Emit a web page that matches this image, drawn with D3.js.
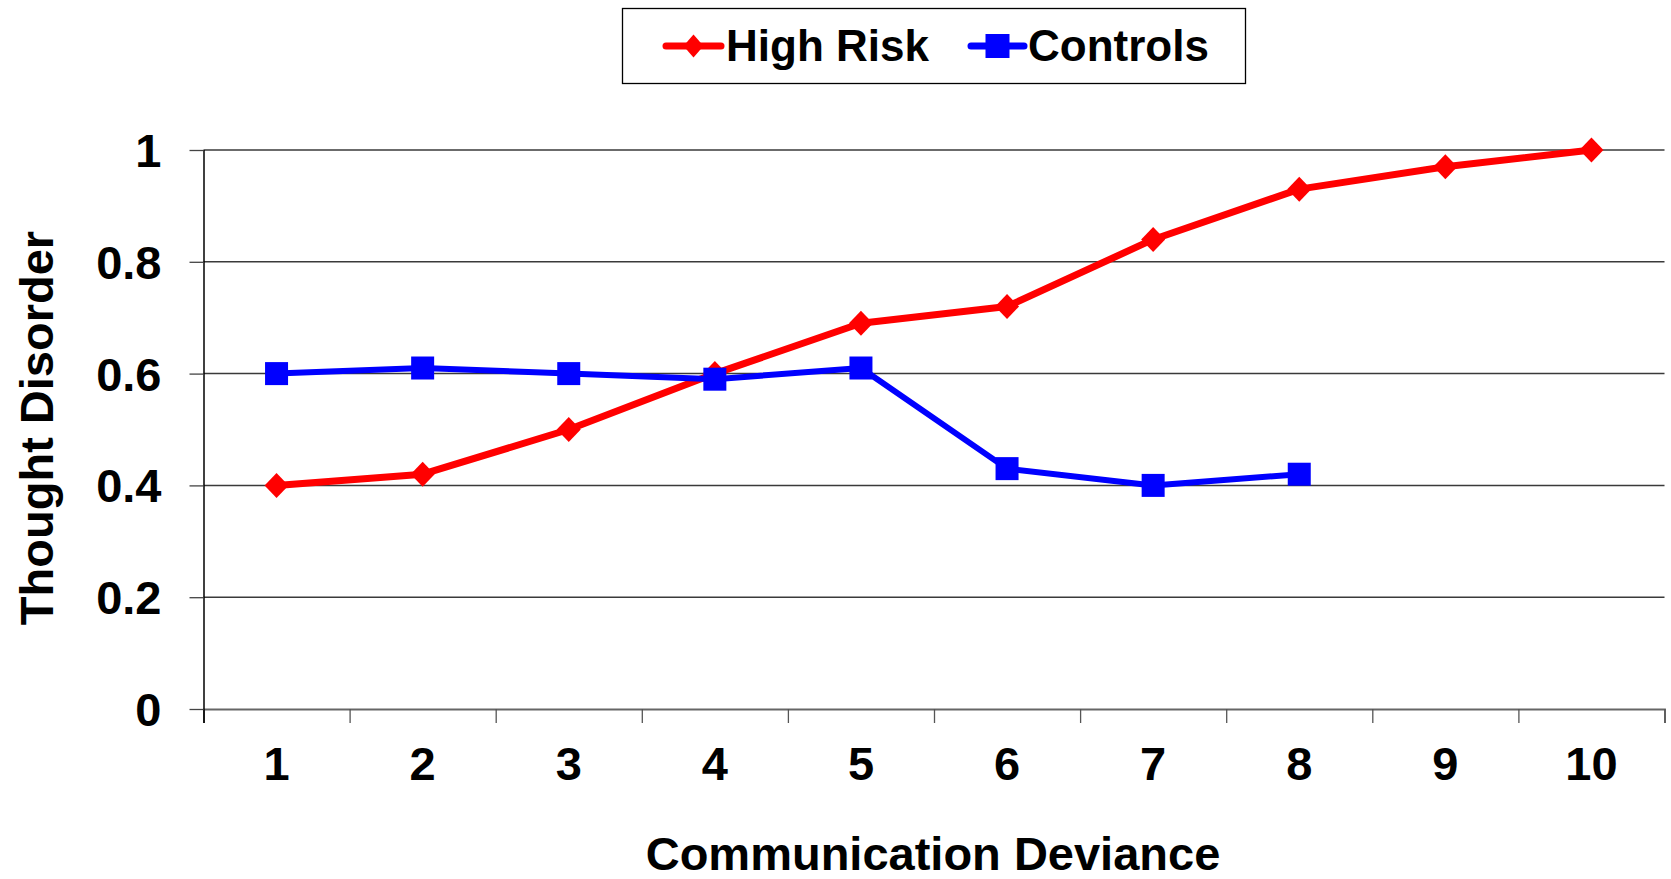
<!DOCTYPE html>
<html>
<head>
<meta charset="utf-8">
<script src="https://cdn.jsdelivr.net/npm/d3@7"></script>
<style>
  html, body { margin: 0; padding: 0; background: #fff; }
  svg { display: block; }
  text { font-family: "Liberation Sans", Arial, sans-serif; font-weight: bold; fill: #000; }
</style>
</head>
<body>
<svg id="chart" width="1671" height="879"></svg>
<script>
// Communication deviance categories and thought-disorder scores per group
const categories = [1, 2, 3, 4, 5, 6, 7, 8, 9, 10];
const highRisk = [0.40, 0.42, 0.50, 0.60, 0.69, 0.72, 0.84, 0.93, 0.97, 1.00];
const controls = [0.60, 0.61, 0.60, 0.59, 0.61, 0.43, 0.40, 0.42];
const yTicks = [0, 0.2, 0.4, 0.6, 0.8, 1];
const seriesNames = ["High Risk", "Controls"];

const svg = d3.select("#chart");
const plot = { left: 203.5, right: 1664.5, top: 150, bottom: 709 };

const x = d3.scaleBand().domain(categories).range([plot.left, plot.right]);
const xEdges = d3.scaleLinear().domain([0, categories.length]).range([plot.left, plot.right]);
const y = d3.scaleLinear().domain([0, 1]).range([plot.bottom, plot.top]);
const cx = d => x(d) + x.bandwidth() / 2;

// horizontal gridlines
svg.append("g")
  .selectAll("line")
  .data(yTicks.filter(t => t > 0))
  .join("line")
  .attr("x1", plot.left).attr("x2", plot.right)
  .attr("y1", d => y(d)).attr("y2", d => y(d))
  .attr("stroke", "#3a3a3a").attr("stroke-width", 1.5);

// x axis: tick marks on category boundaries
const xTickAxis = svg.append("g")
  .attr("transform", `translate(0,${plot.bottom})`)
  .call(d3.axisBottom(xEdges).ticks(categories.length).tickSize(14).tickFormat(""));
xTickAxis.select(".domain").attr("stroke", "#666").attr("stroke-width", 1.8);
xTickAxis.selectAll(".tick line").attr("stroke", "#555").attr("stroke-width", 1.3);

// x axis labels centred on categories
const xLabelAxis = svg.append("g")
  .attr("transform", `translate(0,${plot.bottom})`)
  .call(d3.axisBottom(x).tickSize(0).tickPadding(38));
xLabelAxis.select(".domain").remove();
xLabelAxis.selectAll("text")
  .attr("font-size", 47).attr("font-family", null);

// y axis
const yAxis = svg.append("g")
  .attr("transform", `translate(${plot.left},0)`)
  .call(d3.axisLeft(y).tickValues(yTicks).tickSize(14).tickPadding(28)
    .tickFormat(d => d3.format("")(+d.toFixed(1))));
yAxis.select(".domain").attr("d", `M0.5,${plot.top}V${plot.bottom + 14}`)
  .attr("stroke", "#000").attr("stroke-width", 1.5);
yAxis.selectAll(".tick line").attr("stroke", "#444").attr("stroke-width", 1.3);
yAxis.selectAll("text").attr("font-size", 47).attr("font-family", null).attr("dy", "0.35em");

// axis titles
svg.append("text")
  .attr("x", 933).attr("y", 870)
  .attr("text-anchor", "middle")
  .attr("font-size", 47)
  .text("Communication Deviance");

svg.append("text")
  .attr("transform", "translate(53,428) rotate(-90)")
  .attr("text-anchor", "middle")
  .attr("font-size", 47)
  .text("Thought Disorder");

// series lines
const line = d3.line().x(d => cx(d.cat)).y(d => y(d.val));
const hrData = highRisk.map((v, i) => ({ cat: categories[i], val: v }));
const ctData = controls.map((v, i) => ({ cat: categories[i], val: v }));

svg.append("path").datum(hrData)
  .attr("d", line).attr("fill", "none")
  .attr("stroke", "#ff0000").attr("stroke-width", 7).attr("stroke-linejoin", "round");

svg.append("path").datum(ctData)
  .attr("d", line).attr("fill", "none")
  .attr("stroke", "#0000ff").attr("stroke-width", 6).attr("stroke-linejoin", "round");

// markers
const diamond = (w, h) => `M0,${-h}L${w},0L0,${h}L${-w},0Z`;
svg.append("g").selectAll("path")
  .data(hrData).join("path")
  .attr("transform", d => `translate(${cx(d.cat)},${y(d.val)})`)
  .attr("d", diamond(12, 12.5))
  .attr("fill", "#ff0000");

const sq = 23;
svg.append("g").selectAll("rect")
  .data(ctData).join("rect")
  .attr("x", d => cx(d.cat) - sq / 2).attr("y", d => y(d.val) - sq / 2)
  .attr("width", sq).attr("height", sq)
  .attr("fill", "#0000ff");

// legend
const legend = svg.append("g");
legend.append("rect")
  .attr("x", 622.5).attr("y", 8.5).attr("width", 623).attr("height", 75)
  .attr("fill", "#fff").attr("stroke", "#000").attr("stroke-width", 1.3);

const legendItems = [
  { name: seriesNames[0], color: "#ff0000", x0: 666, x1: 721, tx: 726, marker: "diamond" },
  { name: seriesNames[1], color: "#0000ff", x0: 971, x1: 1024, tx: 1028, marker: "square" }
];
const ly = 46;
legendItems.forEach(it => {
  legend.append("line")
    .attr("x1", it.x0).attr("x2", it.x1).attr("y1", ly).attr("y2", ly)
    .attr("stroke", it.color).attr("stroke-width", 7).attr("stroke-linecap", "round");
  const mx = (it.x0 + it.x1) / 2;
  if (it.marker === "diamond") {
    legend.append("path").attr("transform", `translate(${mx},${ly})`)
      .attr("d", diamond(10, 11.5)).attr("fill", it.color);
  } else {
    legend.append("rect").attr("x", mx - 12).attr("y", ly - 12)
      .attr("width", 24).attr("height", 24).attr("fill", it.color);
  }
  legend.append("text")
    .attr("x", it.tx).attr("y", 61)
    .attr("font-size", 44)
    .text(it.name);
});
</script>
</body>
</html>
